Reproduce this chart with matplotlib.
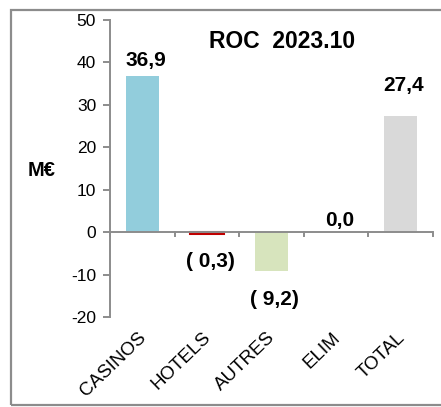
import matplotlib
matplotlib.use("Agg")
import matplotlib.pyplot as plt
from matplotlib.patches import Rectangle

plt.rcParams['font.family'] = ['Liberation Sans', 'DejaVu Sans']

categories = ["CASINOS", "HOTELS", "AUTRES", "ELIM", "TOTAL"]
values = [36.9, -0.3, -9.2, 0.0, 27.4]
value_labels = ["36,9", "( 0,3)", "( 9,2)", "0,0", "27,4"]
colors = ["#92CDDC", "#C00000", "#D7E4BD", "#FFFFFF", "#D9D9D9"]
y_ticks = [-20, -10, 0, 10, 20, 30, 40, 50]

# gap between each bar end and its value label, in data units
label_gap = [1.3, 4.4, 4.4, 0.6, 5.0]
# outline so the very thin bar stays visible under the zero line
edge_widths = [0, 2.2, 0, 0, 0]

fig = plt.figure(figsize=(4.41, 4.07), dpi=100)
ax = fig.add_axes([110 / 441, 1 - 317 / 407, 323 / 441, 297 / 407])

x = list(range(len(categories)))
ax.bar(x, values, width=0.51, color=colors, edgecolor=colors,
       linewidth=edge_widths, zorder=2)
ax.set_xlim(-0.5, len(categories) - 0.5)
ax.set_ylim(-20, 50)

spine_col = "#8C8C8C"
for s in ["top", "right", "bottom"]:
    ax.spines[s].set_visible(False)
ax.spines["left"].set_color(spine_col)
ax.spines["left"].set_linewidth(1.4)
ax.axhline(0, color=spine_col, lw=1.4, zorder=3)

ax.set_yticks(y_ticks)
ax.set_yticklabels([str(v) for v in y_ticks])
ax.tick_params(axis="y", direction="out", length=5, width=1.4, color=spine_col,
               labelsize=12.5, pad=5)

# category boundary ticks on the zero line
ax.set_xticks([])
for b in [i - 0.5 for i in range(len(categories) + 1)]:
    ax.plot([b, b], [0, -0.95], color=spine_col, lw=1.4, clip_on=False, zorder=3)

for i, cat in enumerate(categories):
    ax.text(i + 0.02, -24.3, cat, rotation=44, ha="right", va="center",
            rotation_mode="anchor", fontsize=13.5)

for i, (v, lab, g) in enumerate(zip(values, value_labels, label_gap)):
    if v < 0:
        ax.text(i + 0.05, v - g, lab, ha="center", va="top", fontsize=15, fontweight="bold")
    else:
        ax.text(i + 0.05, v + g, lab, ha="center", va="bottom", fontsize=15, fontweight="bold")

fig.text(282 / 441, 1 - 41 / 407, "ROC  2023.10", ha="center", va="center",
         fontsize=16.5, fontweight="bold")
fig.text(42 / 441, 1 - 170 / 407, "M€", ha="center", va="center",
         fontsize=14.5, fontweight="bold")

fig.add_artist(Rectangle((11 / 441, 1 - 405 / 407), 440 / 441, 395 / 407,
                         transform=fig.transFigure, fill=False,
                         edgecolor="#8C8C8C", lw=1.6))

fig.savefig("out.png", dpi=100)
